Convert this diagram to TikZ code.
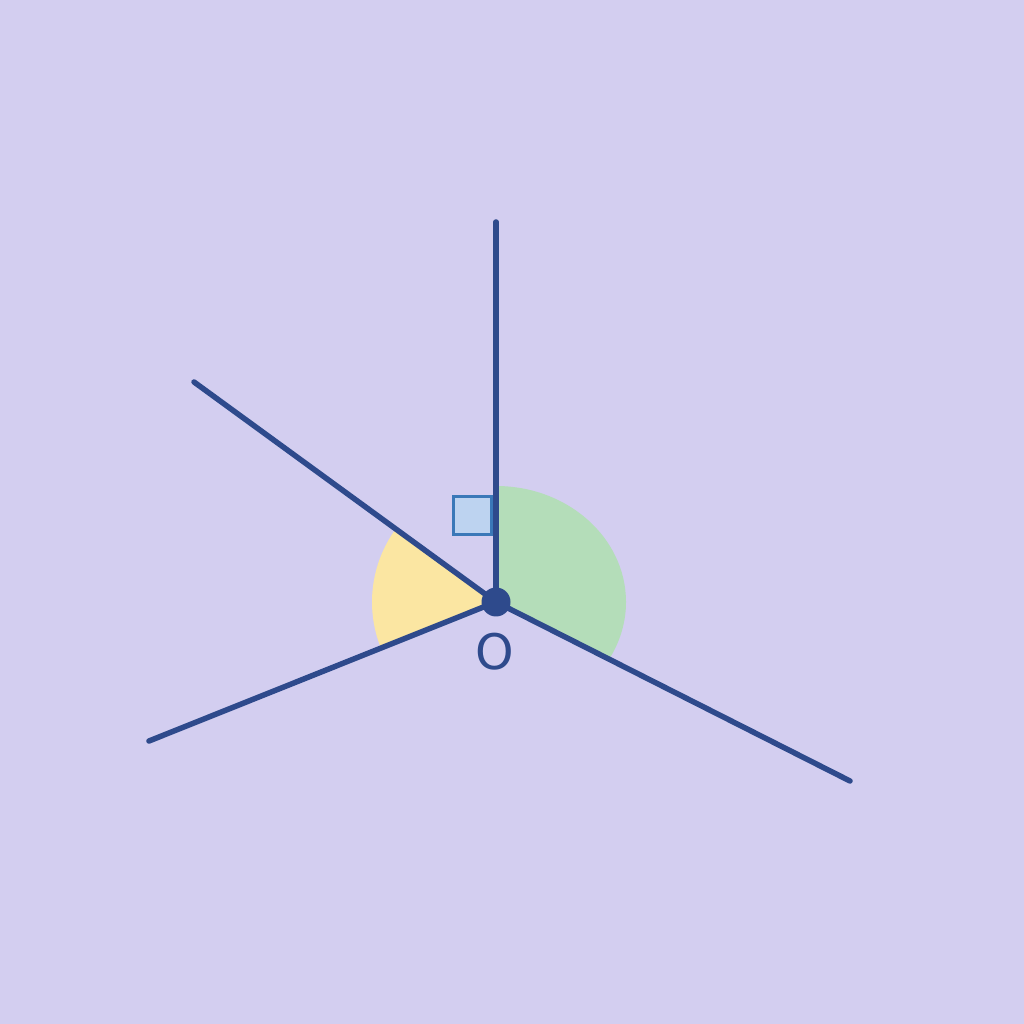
\documentclass[tikz,border=0pt]{standalone}
\usepackage{fontspec}
\setmainfont{DejaVu Sans}
\definecolor{bgc}{HTML}{D3CEF0}
\definecolor{navy}{HTML}{2E4A8C}
\definecolor{grn}{HTML}{B4DDB9}
\definecolor{yel}{HTML}{FBE6A2}
\definecolor{sqfill}{HTML}{BDD3F0}
\definecolor{sqdraw}{HTML}{3A78B8}
\begin{document}
\begin{tikzpicture}[x=1pt,y=1pt,
  ray/.style={draw=navy,line width=5.5pt,line cap=round},
  dotnode/.style={circle,fill=navy,inner sep=0pt,minimum size=29pt}]
\fill[bgc] (0,0) rectangle (1024,1024);
\useasboundingbox (0,0) rectangle (1024,1024);
\coordinate (C) at (496,422);
\coordinate (U) at (496,802);
\coordinate (UL) at (194,642);
\coordinate (LL) at (149,283);
\coordinate (LR) at (850,243);
% sectors
\fill[grn] (C) -- ++(0,116) arc[start angle=90,end angle=-29.6,x radius=130,y radius=116] -- cycle;
\fill[yel] (C) -- ++(144:124) arc[start angle=144,end angle=201.8,radius=124] -- cycle;
% right angle mark
\node[draw=sqdraw,fill=sqfill,line width=3pt,minimum width=38pt,minimum height=38pt,inner sep=0pt] (sq) at (472.5,508.5) {};
% rays
\draw[ray] (C) -- (U);
\draw[ray] (C) -- (UL);
\draw[ray] (C) -- (LL);
\draw[ray] (C) -- (LR);
\node[dotnode] (O) at (C) {};
\node[text=navy,font=\fontsize{49}{49}\selectfont,inner sep=0pt] (lab) at (495,372) {O};
\end{tikzpicture}
\end{document}
